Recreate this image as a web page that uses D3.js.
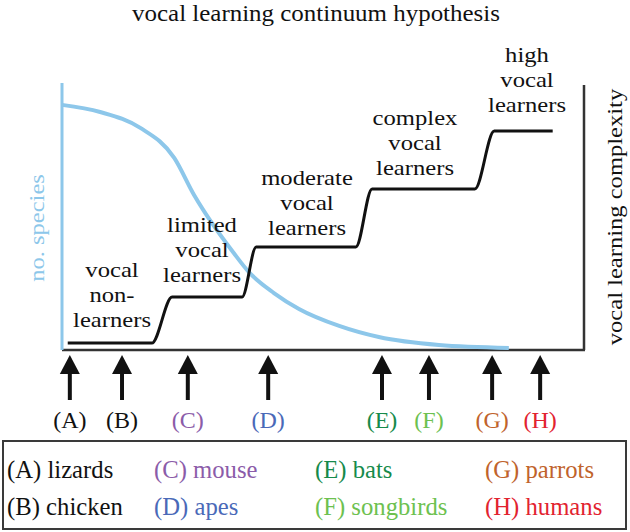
<!DOCTYPE html>
<html>
<head>
<meta charset="utf-8">
<script src="https://cdn.jsdelivr.net/npm/d3@7"></script>
<style>
  body { margin: 0; background: #fff; }
  text { font-family: "Liberation Serif", "Times New Roman", serif; }
</style>
</head>
<body>
<div id="chart"></div>
<script>
// Species along the continuum (arrows + legend)
let letters = ["A", "B", "C", "D", "E", "F", "G", "H"];
let species = ["lizards", "chicken", "mouse", "apes", "bats", "songbirds", "parrots", "humans"];
let speciesPos = [1.5, 11.5, 24.1, 39.5, 61.3, 70.3, 82.4, 91.6];
let speciesColors = ["#111111", "#111111", "#8b5ca9", "#4a69b8", "#168a4b", "#6dc150", "#c0632c", "#e2232f"];

// Number of species curve (blue)
let curveX = [0, 7.3, 15.0, 21.5, 25.3, 29.1, 32.9, 35.8, 40.6, 45.4, 53.1, 60.7, 72.2, 85.6];
let curveY = [92.5, 89.8, 83.8, 72.5, 58.5, 46.8, 36.6, 29.4, 21.5, 15.5, 9.1, 4.9, 1.9, 0.8];

// Vocal learning complexity steps (black)
let stepX = [1.1, 17.2, 21.1, 34.5, 37.2, 56.3, 59.4, 79.1, 82.8, 94.0];
let stepY = [2.6, 2.6, 20.0, 20.0, 38.9, 38.9, 60.8, 60.8, 82.6, 82.6];

// Labels for each level
let levelLabels = [
  ["vocal", "non-", "learners"],
  ["limited", "vocal", "learners"],
  ["moderate", "vocal", "learners"],
  ["complex", "vocal", "learners"],
  ["high", "vocal", "learners"]
];

let width = 630;
let height = 532;

var svg = d3
    .select("#chart")
    .append("svg")
    .attr("width", width)
    .attr("height", height);

let x = d3.scaleLinear().domain([0, 100]).range([62, 584]);
let y = d3.scaleLinear().domain([0, 100]).range([350, 85]);

// text with its own size and horizontal squeeze / stretch
function addText(str, tx, ty, opts) {
  opts = opts || {};
  return svg
    .append("text")
    .attr("transform",
      "translate(" + tx + "," + ty + ")" +
      (opts.rotate ? " rotate(" + opts.rotate + ")" : "") +
      " scale(" + (opts.sx || 1) + ",1)")
    .attr("text-anchor", opts.anchor || "middle")
    .style("font-size", (opts.size || 24) + "px")
    .attr("fill", opts.color || "#111")
    .text(str);
}

// Title
addText("vocal learning continuum hypothesis", 316, 21, { size: 24, sx: 1.04 });

// Axes
svg.append("line")
  .attr("x1", x(0)).attr("x2", x(100) + 1)
  .attr("y1", y(0)).attr("y2", y(0))
  .attr("stroke", "#333").attr("stroke-width", 2.5);

svg.append("line")
  .attr("x1", x(100)).attr("x2", x(100))
  .attr("y1", y(100)).attr("y2", y(0))
  .attr("stroke", "#333").attr("stroke-width", 2.5);

svg.append("line")
  .attr("x1", x(0)).attr("x2", x(0))
  .attr("y1", y(100) - 2).attr("y2", y(0))
  .attr("stroke", "#8dc7ea").attr("stroke-width", 3);

// Blue species curve
let curveData = curveX.map((d, i) => [d, curveY[i]]);
svg.append("path")
  .datum(curveData)
  .attr("d", d3.line().x(d => x(d[0])).y(d => y(d[1])).curve(d3.curveMonotoneX))
  .attr("fill", "none")
  .attr("stroke", "#8dc7ea")
  .attr("stroke-width", 4);

// Black step line
let stepData = stepX.map((d, i) => [d, stepY[i]]);
svg.append("path")
  .datum(stepData)
  .attr("d", d3.line().x(d => x(d[0])).y(d => y(d[1])).curve(d3.curveMonotoneX))
  .attr("fill", "none")
  .attr("stroke", "#111")
  .attr("stroke-width", 3);

// Level labels (positions in pixels)
let labelCx = [112, 202, 307, 415, 527];
let labelTop = [277, 232, 185, 125, 62];
let lineGap = 24.8;
levelLabels.forEach((lines, i) => {
  lines.forEach((l, j) => {
    addText(l, labelCx[i], labelTop[i] + j * lineGap, { size: 22, sx: 1.12 });
  });
});

// Axis titles
addText("no. species", 44, 228, { rotate: -90, color: "#8dc7ea", size: 21, sx: 1.17 });
addText("vocal learning complexity", 622, 217, { rotate: -90, size: 21, sx: 1.17 });

// Arrows
let arrows = svg.selectAll(".arrow")
    .data(speciesPos)
    .enter()
    .append("g")
    .attr("class", "arrow")
    .attr("transform", d => "translate(" + x(d) + ",0)");

arrows.append("line")
  .attr("x1", 0).attr("x2", 0)
  .attr("y1", 370).attr("y2", 400)
  .attr("stroke", "#111").attr("stroke-width", 4);

arrows.append("path")
  .attr("d", "M0,355 L-10,374 L10,374 Z")
  .attr("fill", "#111");

// Arrow letters
letters.forEach((l, i) => {
  addText("(" + l + ")", x(speciesPos[i]), 428, { color: speciesColors[i], size: 24 });
});

// Legend
svg.append("rect")
  .attr("x", 3).attr("y", 441)
  .attr("width", 623).attr("height", 88)
  .attr("fill", "none")
  .attr("stroke", "#3a3a3a")
  .attr("stroke-width", 2);

let legendCols = [7, 154, 315, 485];
let legendRows = [478, 515];
letters.forEach((l, i) => {
  addText("(" + l + ") " + species[i],
    legendCols[Math.floor(i / 2)], legendRows[i % 2],
    { anchor: "start", color: speciesColors[i], size: 26, sx: 0.95 });
});
</script>
</body>
</html>
